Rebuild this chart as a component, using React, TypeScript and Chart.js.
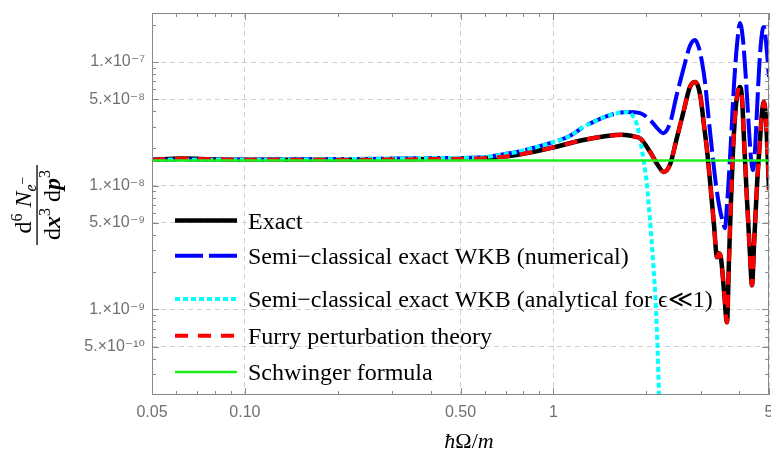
import React, { useEffect, useRef } from 'react';
import { Chart, registerables } from 'chart.js';
Chart.register(...registerables);

const W = 771;
const H = 452;
const SANS = "'Liberation Sans', 'DejaVu Sans', Arial, sans-serif";
const SERIF = "'Liberation Serif', 'DejaVu Serif', 'Times New Roman', serif";

// ---- data (ħΩ/m, d^6N/dx^3dp^3) ----
const exactX = [0.05, 0.0626, 0.08, 0.1, 0.2, 0.4, 0.59, 0.76, 0.975, 1.25, 1.49, 1.67, 1.84, 1.91, 2.06, 2.18, 2.28, 2.39, 2.51, 2.64, 2.77, 2.878,
  2.943, 3.009, 3.077, 3.148, 3.244, 3.317, 3.392, 3.443, 3.495, 3.573, 3.654, 3.709, 3.765, 3.822, 3.908, 3.967, 4.027, 4.088, 4.15, 4.243,
  4.339, 4.404, 4.471, 4.572, 4.675, 4.746, 4.817, 4.89, 4.964, 5.0];
const exactY = [1.62e-8, 1.655e-8, 1.63e-8, 1.62e-8, 1.62e-8, 1.64e-8, 1.67e-8, 1.77e-8, 2.01e-8, 2.34e-8, 2.52e-8, 2.58e-8, 2.49e-8, 2.42e-8, 1.87e-8, 1.47e-8, 1.29e-8, 1.49e-8, 2.4e-8, 3.94e-8, 6.27e-8, 6.89e-8,
  6.39e-8, 4.92e-8, 3.09e-8, 1.94e-8, 8.86e-9, 4.79e-9, 2.64e-9, 2.84e-9, 2.59e-9, 1.425e-9, 7.85e-10, 2.49e-9, 7.63e-9, 1.94e-8, 4.49e-8, 5.82e-8, 6.27e-8, 5.11e-8, 2.34e-8, 7.63e-9,
  2.74e-9, 1.564e-9, 3.3e-9, 1.009e-8, 2.34e-8, 3.94e-8, 4.74e-8, 3.39e-8, 1.466e-8, 9.2e-9];

const furryX = exactX;
const furryY = exactY;

const wkbNumX = [0.05, 0.1, 0.2, 0.4, 0.59, 0.67, 0.76, 0.975, 1.13, 1.25, 1.365, 1.49, 1.61, 1.73, 1.91, 2.06, 2.17, 2.27, 2.39, 2.51, 2.64, 2.77, 2.878,
  2.965, 3.032, 3.101, 3.171, 3.268, 3.367, 3.469, 3.547, 3.6, 3.654, 3.709, 3.765, 3.85, 3.937, 4.027, 4.118, 4.211, 4.307, 4.371, 4.437, 4.504,
  4.572, 4.641, 4.711, 4.781, 4.817, 4.89, 4.964, 5.0];
const wkbNumY = [1.62e-8, 1.62e-8, 1.64e-8, 1.67e-8, 1.7e-8, 1.77e-8, 1.87e-8, 2.21e-8, 2.52e-8, 2.98e-8, 3.33e-8, 3.65e-8, 3.86e-8, 3.94e-8, 3.86e-8, 3.39e-8, 2.92e-8, 2.66e-8, 3.21e-8, 5.41e-8, 8.78e-8, 1.348e-7, 1.507e-7,
  1.298e-7, 1.0e-7, 6.89e-8, 3.94e-8, 1.94e-8, 1.009e-8, 6.33e-9, 5.06e-9, 4.53e-9, 6.95e-9, 1.216e-8, 2.34e-8, 6.51e-8, 1.373e-7, 2.07e-7, 1.507e-7, 7.15e-8, 2.81e-8, 1.67e-8, 1.335e-8, 1.94e-8,
  4.09e-8, 8.61e-8, 1.452e-7, 1.885e-7, 1.92e-7, 1.452e-7, 9.46e-8, 7.56e-8];

const wkbAnaX = [0.05, 0.1, 0.2, 0.4, 0.59, 0.67, 0.76, 0.975, 1.13, 1.25, 1.365, 1.49, 1.61, 1.73, 1.8, 1.867, 1.937, 2.011, 2.057, 2.104, 2.152, 2.2, 2.23];
const wkbAnaY = [1.62e-8, 1.62e-8, 1.64e-8, 1.67e-8, 1.7e-8, 1.77e-8, 1.87e-8, 2.21e-8, 2.52e-8, 2.98e-8, 3.33e-8, 3.65e-8, 3.86e-8, 3.94e-8, 3.72e-8, 3.09e-8, 1.94e-8, 1.01e-8, 5.26e-9, 2.49e-9, 9.8e-10, 2.05e-10, 5e-11];

const schwingerX = [0.05, 5];
const schwingerY = [1.6e-8, 1.6e-8];

// ---- axes ----
const xMin = 0.05, xMax = 5;
const yMin = 2.03e-10, yMax = 2.49e-7;
const xTickValues = [0.05, 0.1, 0.5, 1, 5];
const xTickLabels = ['0.05', '0.10', '0.50', '1', '5'];
const xMinorTicks = [0.06, 0.07, 0.08, 0.09, 0.2, 0.3, 0.4, 0.6, 0.7, 0.8, 0.9, 2, 3, 4];
const yTickValues = [5e-10, 1e-9, 5e-9, 1e-8, 5e-8, 1e-7];
const yTickLabels = ['5.×10⁻¹⁰', '1.×10⁻⁹', '5.×10⁻⁹', '1.×10⁻⁸', '5.×10⁻⁸', '1.×10⁻⁷'];
const yMinorTicks = [3e-10, 4e-10, 6e-10, 7e-10, 8e-10, 9e-10, 2e-9, 3e-9, 4e-9, 6e-9, 7e-9, 8e-9, 9e-9,
  2e-8, 3e-8, 4e-8, 6e-8, 7e-8, 8e-8, 9e-8, 2e-7];

const seriesNames = [
  'Exact',
  'Semi−classical exact WKB (numerical)',
  'Semi−classical exact WKB (analytical for ϵ≪1)',
  'Furry perturbation theory',
  'Schwinger formula',
];
const seriesColors = ['#000000', '#0000ff', '#00ffff', '#ff0000', '#19f019'];
const seriesWidths = [4.5, 4, 4, 4, 2.5];
const seriesDashes: number[][] = [[], [28, 6], [5, 3], [13, 10], []];
const legendRowsY = [220.5, 255.7, 299, 335.7, 372];

type Run = { t: string; font: string; dy?: number };

function drawRuns(ctx: CanvasRenderingContext2D, runs: Run[], cx: number, baseline: number) {
  let total = 0;
  const widths = runs.map((r) => {
    ctx.font = r.font;
    const w = ctx.measureText(r.t).width;
    total += w;
    return w;
  });
  let x = cx - total / 2;
  runs.forEach((r, i) => {
    ctx.font = r.font;
    ctx.fillText(r.t, x, baseline - (r.dy || 0));
    x += widths[i];
  });
}

const decorPlugin = {
  id: 'decor',
  afterDraw(chart: any) {
    const { ctx, chartArea: a, scales } = chart;
    const xs = scales.x;
    const ys = scales.y;
    ctx.save();
    // frame
    ctx.strokeStyle = '#8a8a8a';
    ctx.lineWidth = 1;
    ctx.setLineDash([]);
    ctx.strokeRect(a.left + 0.5, a.top + 0.5, a.right - a.left - 1, a.bottom - a.top - 1);
    // inward ticks on all sides
    const tick = (x1: number, y1: number, x2: number, y2: number) => {
      ctx.beginPath();
      ctx.moveTo(x1, y1);
      ctx.lineTo(x2, y2);
      ctx.stroke();
    };
    const xt = (vals: number[], len: number) => vals.forEach((v) => {
      const px = Math.round(xs.getPixelForValue(v)) + 0.5;
      tick(px, a.bottom, px, a.bottom - len);
      tick(px, a.top, px, a.top + len);
    });
    const yt = (vals: number[], len: number) => vals.forEach((v) => {
      const py = Math.round(ys.getPixelForValue(v)) + 0.5;
      tick(a.left, py, a.left + len, py);
      tick(a.right, py, a.right - len, py);
    });
    xt(xTickValues, 7);
    xt(xMinorTicks, 4);
    yt(yTickValues, 7);
    yt(yMinorTicks, 4);

    // legend inside plot
    ctx.textBaseline = 'alphabetic';
    ctx.textAlign = 'left';
    seriesNames.forEach((name, i) => {
      const y = legendRowsY[i];
      ctx.strokeStyle = seriesColors[i];
      ctx.lineWidth = seriesWidths[i];
      ctx.lineCap = 'butt';
      ctx.setLineDash(seriesDashes[i]);
      ctx.beginPath();
      ctx.moveTo(175, y);
      ctx.lineTo(237, y);
      ctx.stroke();
      ctx.setLineDash([]);
      ctx.fillStyle = '#000';
      ctx.font = `24px ${SERIF}`;
      ctx.fillText(name, 248, y + 8);
    });

    // x-axis title
    ctx.fillStyle = '#000';
    drawRuns(ctx, [
      { t: 'ħ', font: `italic 22px ${SERIF}` },
      { t: 'Ω', font: `22px ${SERIF}` },
      { t: '/', font: `22px ${SERIF}` },
      { t: 'm', font: `italic 22px ${SERIF}` },
    ], 469, 448);

    // y-axis title (rotated fraction)
    ctx.save();
    ctx.translate(37, 205);
    ctx.rotate(-Math.PI / 2);
    drawRuns(ctx, [
      { t: 'd', font: `24px ${SERIF}` },
      { t: '6', font: `16px ${SERIF}`, dy: 9 },
      { t: ' ', font: `24px ${SERIF}` },
      { t: 'N', font: `italic 24px ${SERIF}` },
      { t: 'e', font: `italic 16px ${SERIF}`, dy: -5 },
      { t: '−', font: `14px ${SERIF}`, dy: 4 },
    ], 0, -6);
    ctx.fillRect(-40, -0.6, 80, 1.3);
    drawRuns(ctx, [
      { t: 'd', font: `24px ${SERIF}` },
      { t: 'x', font: `italic bold 24px ${SERIF}` },
      { t: '3', font: `16px ${SERIF}`, dy: 10 },
      { t: ' d', font: `24px ${SERIF}` },
      { t: 'p', font: `italic bold 24px ${SERIF}` },
      { t: '3', font: `16px ${SERIF}`, dy: 10 },
    ], 0, 23);
    ctx.restore();
    ctx.restore();
  },
};

export default function App() {
  const ref = useRef<HTMLCanvasElement>(null);
  useEffect(() => {
    const canvas = ref.current!;
    const pts = (xs: number[], ys: number[]) => xs.map((x, i) => ({ x, y: ys[i] }));
    const series = [
      pts(exactX, exactY),
      pts(wkbNumX, wkbNumY),
      pts(wkbAnaX, wkbAnaY),
      pts(furryX, furryY),
      pts(schwingerX, schwingerY),
    ];
    const orders = [5, 4, 3, 2, 1];
    const majorGrid = (vals: number[]) => (c: any) => {
      const v = c.tick ? c.tick.value : NaN;
      return vals.some((t) => Math.abs(t - v) / t < 1e-6) ? '#cfcfcf' : 'rgba(0,0,0,0)';
    };
    const chart = new Chart(canvas, {
      type: 'line',
      data: {
        datasets: series.map((d, i) => ({
          label: seriesNames[i],
          data: d,
          borderColor: seriesColors[i],
          backgroundColor: seriesColors[i],
          borderWidth: seriesWidths[i],
          borderDash: seriesDashes[i],
          order: orders[i],
          fill: false,
          pointRadius: 0,
          cubicInterpolationMode: 'monotone',
          clip: 0,
        })) as any,
      },
      options: {
        responsive: false,
        animation: false,
        devicePixelRatio: 1,
        layout: { padding: { top: 13, right: 2, left: 0, bottom: 0 } },
        plugins: { legend: { display: false }, tooltip: { enabled: false } },
        elements: { line: { borderCapStyle: 'butt', borderJoinStyle: 'round' } },
        scales: {
          x: {
            type: 'logarithmic',
            min: xMin,
            max: xMax,
            afterBuildTicks: (s: any) => { s.ticks = xTickValues.map((v) => ({ value: v })); },
            afterFit: (s: any) => { s.height = 57; s.paddingLeft = 0; s.paddingRight = 0; },
            ticks: {
              autoSkip: false,
              maxRotation: 0,
              padding: 8,
              color: '#707070',
              font: { size: 16, family: SANS },
              callback: (_v: any, i: number) => xTickLabels[i],
            },
            grid: { drawTicks: false, color: majorGrid(xTickValues), lineWidth: 1 },
            border: { display: false, dash: [5, 4] },
          },
          y: {
            type: 'logarithmic',
            min: yMin,
            max: yMax,
            afterBuildTicks: (s: any) => { s.ticks = yTickValues.map((v) => ({ value: v })); },
            afterFit: (s: any) => { s.width = 152; s.paddingTop = 0; s.paddingBottom = 0; },
            ticks: {
              autoSkip: false,
              padding: 7,
              color: '#707070',
              font: { size: 16, family: SANS },
              callback: (_v: any, i: number) => yTickLabels[i],
            },
            grid: { drawTicks: false, color: majorGrid(yTickValues), lineWidth: 1 },
            border: { display: false, dash: [5, 4] },
          },
        },
      } as any,
      plugins: [decorPlugin],
    });
    return () => chart.destroy();
  }, []);

  return (
    <div style={{ position: 'absolute', left: 0, top: 0, width: W, height: H, background: '#fff' }}>
      <canvas ref={ref} width={W} height={H} style={{ width: W, height: H, display: 'block' }} />
    </div>
  );
}
